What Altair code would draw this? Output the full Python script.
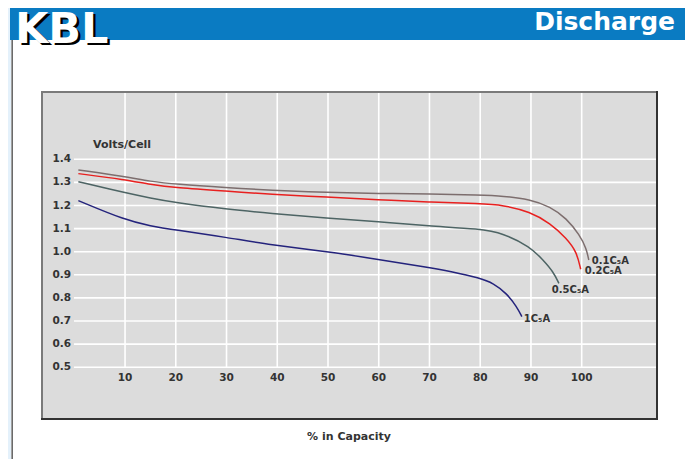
import altair as alt
import pandas as pd

# ---------------- data ----------------
series_names = ["0.1C₅A", "0.2C₅A", "0.5C₅A", "1C₅A"]
series_colors = ["#7d6e6e", "#e8201f", "#4d6464", "#24237c"]

cap_01 = [0.8, 10, 15, 20, 30, 38.6, 50, 60, 70, 80, 84.5, 89.8, 93.8, 97, 99.6, 100.9, 101.4]
volt_01 = [1.354, 1.325, 1.304, 1.292, 1.277, 1.266, 1.256, 1.252, 1.250, 1.245, 1.241, 1.227, 1.195, 1.145, 1.072, 1.015, 0.964]

cap_02 = [0.8, 10, 15, 20, 30, 38.6, 49.9, 59.9, 69.8, 80, 84.5, 89.8, 93.8, 97, 99, 99.8]
volt_02 = [1.338, 1.312, 1.291, 1.277, 1.262, 1.249, 1.236, 1.225, 1.215, 1.208, 1.202, 1.173, 1.123, 1.058, 1.000, 0.924]

cap_05 = [0.8, 10, 15, 20, 30, 38.6, 49.9, 59.9, 69.8, 80, 84.5, 89.8, 92.4, 94.4, 95.5]
volt_05 = [1.303, 1.255, 1.232, 1.212, 1.184, 1.166, 1.145, 1.130, 1.111, 1.099, 1.080, 1.022, 0.964, 0.913, 0.863]

cap_1 = [0.8, 10, 15, 20, 30, 38.6, 49.9, 59.9, 69.8, 74, 80, 82.6, 85.2, 87.2, 88.2]
volt_1 = [1.221, 1.137, 1.111, 1.094, 1.062, 1.030, 1.000, 0.967, 0.932, 0.915, 0.886, 0.863, 0.820, 0.762, 0.719]

x_ticks = [10, 20, 30, 40, 50, 60, 70, 80, 90, 100]
x_tick_labels = ["10", "20", "30", "40", "50", "60", "70", "80", "90", "100"]
y_ticks = [0.5, 0.6, 0.7, 0.8, 0.9, 1.0, 1.1, 1.2, 1.3, 1.4]
y_tick_labels = ["0.5", "0.6", "0.7", "0.8", "0.9", "1.0", "1.1", "1.2", "1.3", "1.4"]

y_title = "Volts/Cell"
x_title = "% in Capacity"
header_title = "Discharge"
logo = "KBL"

# ---------------- layout ----------------
W, H = 677, 451
XMIN, XMAX = -13.067, 120.36
YMIN, YMAX = 0.1026, 2.055
xs = alt.Scale(domain=[XMIN, XMAX], nice=False, zero=False)
ys = alt.Scale(domain=[YMIN, YMAX], nice=False, zero=False)
FONT = "DejaVu Sans"
TXT = "#333333"

one = pd.DataFrame({"k": [0]})


def box(x, x2, y, y2, color):
    return alt.Chart(one).mark_rect(color=color).encode(
        x=alt.value(x), x2=alt.value(x2), y=alt.value(y), y2=alt.value(y2)
    )


layers = []
# left light strip and frame line
layers.append(box(0, 3, 0, H, "#e4f1fb"))
layers.append(box(3.5, 4.8, 32, H, "#444444"))
# header bar
layers.append(box(2, W, 0, 32, "#0a7bc2"))
# panel with borders
layers.append(box(33, 650, 83, 412, "#333333"))
layers.append(box(33, 648, 83, 410, "#7a7a7a"))
layers.append(box(35, 648, 85, 410, "#dcdcdc"))

# gridlines
layers.append(
    alt.Chart(pd.DataFrame({"v": y_ticks})).mark_rule(color="white", strokeWidth=1.6).encode(
        y=alt.Y("v:Q", scale=ys, axis=None), x=alt.value(66), x2=alt.value(648)
    )
)
layers.append(
    alt.Chart(pd.DataFrame({"x": x_ticks})).mark_rule(color="white", strokeWidth=1.6).encode(
        x=alt.X("x:Q", scale=xs, axis=None), y=alt.value(85), y2=alt.value(359.5)
    )
)

# curves
caps = [cap_01, cap_02, cap_05, cap_1]
volts = [volt_01, volt_02, volt_05, volt_1]
rows = []
for name, cs, vs in zip(series_names, caps, volts):
    for i, (c, v) in enumerate(zip(cs, vs)):
        rows.append({"series": name, "x": c, "v": v, "i": i})
curves = pd.DataFrame(rows)
layers.append(
    alt.Chart(curves).mark_line(strokeWidth=1.5, interpolate="basis").encode(
        x=alt.X("x:Q", scale=xs, axis=None),
        y=alt.Y("v:Q", scale=ys, axis=None),
        color=alt.Color("series:N", scale=alt.Scale(domain=series_names, range=series_colors), legend=None),
        order=alt.Order("i:Q"),
    )
)

# curve end labels
offsets = [(3, 1), (4, 2), (-7, 7), (2, 2)]
for name, cs, vs, (dx, dy) in zip(series_names, caps, volts, offsets):
    d = pd.DataFrame({"x": [cs[-1]], "v": [vs[-1]], "t": [name]})
    layers.append(
        alt.Chart(d).mark_text(align="left", baseline="middle", dx=dx, dy=dy, font=FONT,
                               fontWeight="bold", fontSize=10, color=TXT).encode(
            x=alt.X("x:Q", scale=xs, axis=None), y=alt.Y("v:Q", scale=ys, axis=None), text="t:N"
        )
    )

# tick labels
layers.append(
    alt.Chart(pd.DataFrame({"v": y_ticks, "t": y_tick_labels})).mark_text(
        align="right", baseline="middle", font=FONT, fontWeight="bold", fontSize=10.5, color=TXT
    ).encode(y=alt.Y("v:Q", scale=ys, axis=None), x=alt.value(63), text="t:N")
)
layers.append(
    alt.Chart(pd.DataFrame({"x": x_ticks, "t": x_tick_labels})).mark_text(
        align="center", baseline="middle", font=FONT, fontWeight="bold", fontSize=10.5, color=TXT
    ).encode(x=alt.X("x:Q", scale=xs, axis=None), y=alt.value(370), text="t:N")
)

# titles
layers.append(
    alt.Chart(pd.DataFrame({"t": [y_title]})).mark_text(
        align="left", baseline="middle", font=FONT, fontWeight="bold", fontSize=11, color=TXT
    ).encode(x=alt.value(85), y=alt.value(137), text="t:N")
)
layers.append(
    alt.Chart(pd.DataFrame({"t": [x_title]})).mark_text(
        align="center", baseline="middle", font=FONT, fontWeight="bold", fontSize=11, color=TXT
    ).encode(x=alt.value(341), y=alt.value(429), text="t:N")
)

# header texts
layers.append(
    alt.Chart(pd.DataFrame({"t": [header_title]})).mark_text(
        align="right", baseline="middle", font=FONT, fontWeight="bold", fontSize=25, color="white"
    ).encode(x=alt.value(667), y=alt.value(14), text="t:N")
)
layers.append(
    alt.Chart(pd.DataFrame({"t": [logo]})).mark_text(
        align="left", baseline="alphabetic", font=FONT, fontWeight="bold", fontSize=43, color="black"
    ).encode(x=alt.value(9.5), y=alt.value(37), text="t:N")
)
layers.append(
    alt.Chart(pd.DataFrame({"t": [logo]})).mark_text(
        align="left", baseline="alphabetic", font=FONT, fontWeight="bold", fontSize=43, color="white"
    ).encode(x=alt.value(7), y=alt.value(35), text="t:N")
)

chart = alt.layer(*layers).properties(
    width=W, height=H, autosize=alt.AutoSizeParams(type="none"), padding=0, background="white"
).configure_view(strokeWidth=0)

chart.save("out.html", embed_options={"renderer": "svg", "actions": False})
